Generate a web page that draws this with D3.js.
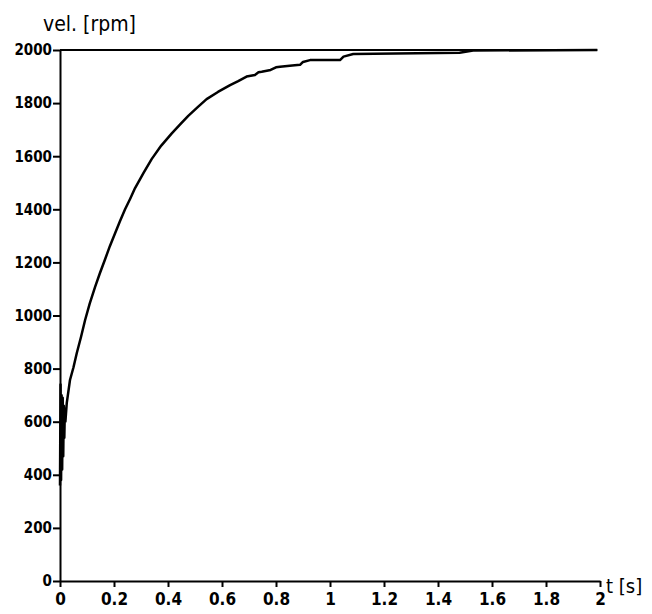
<!DOCTYPE html>
<html>
<head>
<meta charset="utf-8">
<script src="https://cdn.jsdelivr.net/npm/d3@7"></script>
<style>
  body { margin: 0; background: #fff; }
  svg text { font-family: 'DejaVu Sans Condensed', 'Liberation Sans Narrow', sans-serif; font-weight: bold; fill: #000; }
  .axis path, .axis line { stroke: #000; stroke-width: 2; }
</style>
</head>
<body>
<svg width="652" height="614"></svg>
<script>
const width = 652,
    height = 614,
    margin = { top: 50, right: 52, bottom: 33, left: 60 };

// step response: time [s] and speed [rpm]
const timeS = [0, 0.002, 0.004, 0.006, 0.008, 0.010, 0.012, 0.014, 0.016, 0.018, 0.020, 0.025,
    0.037, 0.050, 0.062, 0.078, 0.093, 0.11, 0.13, 0.148, 0.167, 0.185, 0.204, 0.222, 0.241,
    0.26, 0.278, 0.31, 0.34, 0.375, 0.414, 0.445, 0.475, 0.51, 0.543,
    0.585, 0.63, 0.66, 0.691, 0.722, 0.735, 0.747, 0.78, 0.80, 0.815, 0.86, 0.889, 0.90,
    0.926, 1.037, 1.05, 1.086, 1.48, 1.53, 1.99];
const velRpm = [360, 740, 380, 700, 420, 690, 470, 660, 540, 650, 600, 670,
    757, 805, 858, 920, 983, 1045, 1108, 1160, 1212, 1262, 1310, 1355, 1400,
    1440, 1480, 1538, 1590, 1640, 1686, 1720, 1752, 1785, 1815,
    1842, 1868, 1883, 1900, 1906, 1916, 1918, 1925, 1935, 1937, 1942, 1944, 1955,
    1962, 1962, 1975, 1985, 1990, 1998, 2000];

const setpoint = 2000;
const xTicks = [0, 0.2, 0.4, 0.6, 0.8, 1, 1.2, 1.4, 1.6, 1.8, 2];
const yTicks = [0, 200, 400, 600, 800, 1000, 1200, 1400, 1600, 1800, 2000];

const svg = d3.select('svg');

const x = d3.scaleLinear()
    .domain([0, 2])
    .range([margin.left, width - margin.right]);

const y = d3.scaleLinear()
    .domain([0, 2000])
    .range([height - margin.bottom, margin.top]);

// setpoint line
svg.append('line')
    .attr('x1', x(0)).attr('x2', x(1.99))
    .attr('y1', y(setpoint)).attr('y2', y(setpoint))
    .attr('stroke', '#000')
    .attr('stroke-width', 2);

const line = d3.line()
    .x((d, i) => x(timeS[i]))
    .y(d => y(d));

svg.append('path')
    .datum(velRpm)
    .attr('fill', 'none')
    .attr('stroke', '#000')
    .attr('stroke-width', 2.5)
    .attr('stroke-linejoin', 'round')
    .attr('d', line);

const xAxis = svg.append('g')
    .attr('class', 'axis')
    .attr('transform', 'translate(0,' + y(0) + ')')
    .call(d3.axisBottom(x).tickValues(xTicks).tickFormat(d3.format('~g')).tickSize(6).tickSizeOuter(0).tickPadding(6));
xAxis.selectAll('text').style('font-size', '17px');

const yAxis = svg.append('g')
    .attr('class', 'axis')
    .attr('transform', 'translate(' + x(0) + ',0)')
    .call(d3.axisLeft(y).tickValues(yTicks).tickFormat(d3.format('d')).tickSize(7).tickSizeOuter(0).tickPadding(1));
yAxis.selectAll('text').style('font-size', '15px');

svg.append('text')
    .attr('x', 43)
    .attr('y', 31)
    .style('font-size', '21px')
    .style('font-weight', 'normal')
    .text('vel. [rpm]');

svg.append('text')
    .attr('x', 606)
    .attr('y', 593)
    .style('font-size', '20px')
    .style('font-weight', 'normal')
    .text('t [s]');
</script>
</body>
</html>
